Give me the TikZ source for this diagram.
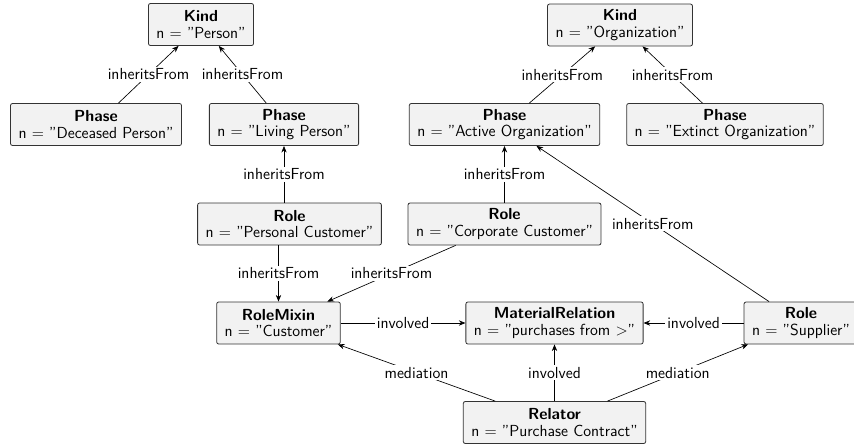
\documentclass[tikz,border=0pt]{standalone}
\usetikzlibrary{arrows.meta}
\begin{document}
\begin{tikzpicture}[x=0.75pt,y=-0.75pt,
  cls/.style={draw=black!80, fill=black!5, rounded corners=1.5pt, line width=0.6pt,
    align=center, inner xsep=6pt, inner ysep=2pt, minimum height=31.5pt,
    font=\sffamily\fontsize{12}{12.5}\selectfont},
  conn/.style={draw=black, line width=0.5pt, -{Stealth[length=5pt,width=4pt]}},
  elab/.style={fill=white, inner sep=1.5pt, font=\sffamily\fontsize{12}{14}\selectfont}]
\useasboundingbox (0,0) rectangle (854,446);
\node[cls] (kp) at (201,24.5) {\textbf{Kind}\\n $=$ "Person"};
\node[cls] (ko) at (620,25) {\textbf{Kind}\\n $=$ "Organization"};
\node[cls] (pd) at (96,124.5) {\textbf{Phase}\\n $=$ "Deceased Person"};
\node[cls] (pl) at (284,124.5) {\textbf{Phase}\\n $=$ "Living Person"};
\node[cls] (pa) at (504.5,124.5) {\textbf{Phase}\\n $=$ "Active Organization"};
\node[cls] (pe) at (725,124.5) {\textbf{Phase}\\n $=$ "Extinct Organization"};
\node[cls] (rpc) at (289.5,224) {\textbf{Role}\\n $=$ "Personal Customer"};
\node[cls] (rcc) at (504.5,224) {\textbf{Role}\\n $=$ "Corporate Customer"};
\node[cls] (rm) at (278.5,323) {\textbf{RoleMixin}\\n $=$ "Customer"};
\node[cls] (mr) at (554.5,323) {\textbf{MaterialRelation}\\n $=$ "purchases from $>$"};
\node[cls] (rs) at (801,323) {\textbf{Role}\\n $=$ "Supplier"};
\node[cls] (rel) at (554.5,422.5) {\textbf{Relator}\\n $=$ "Purchase Contract"};

\draw[conn] (pd) -- node[elab]{inheritsFrom} (kp);
\draw[conn] (pl) -- node[elab]{inheritsFrom} (kp);
\draw[conn] (pa) -- node[elab]{inheritsFrom} (ko);
\draw[conn] (pe) -- node[elab]{inheritsFrom} (ko);
\draw[conn] (rpc.north -| pl.south) -- node[elab]{inheritsFrom} (pl.south);
\draw[conn] (rcc) -- node[elab]{inheritsFrom} (pa);
\draw[conn] (rs) -- node[elab]{inheritsFrom} (pa);
\draw[conn] (rpc.south -| rm.north) -- node[elab]{inheritsFrom} (rm.north);
\draw[conn] (rcc) -- node[elab]{inheritsFrom} (rm);
\draw[conn] (rm) -- node[elab]{involved} (mr);
\draw[conn] (rs) -- node[elab]{involved} (mr);
\draw[conn] (rel) -- node[elab]{involved} (mr);
\draw[conn] (rel) -- node[elab]{mediation} (rm);
\draw[conn] (rel) -- node[elab]{mediation} (rs);
\end{tikzpicture}
\end{document}
